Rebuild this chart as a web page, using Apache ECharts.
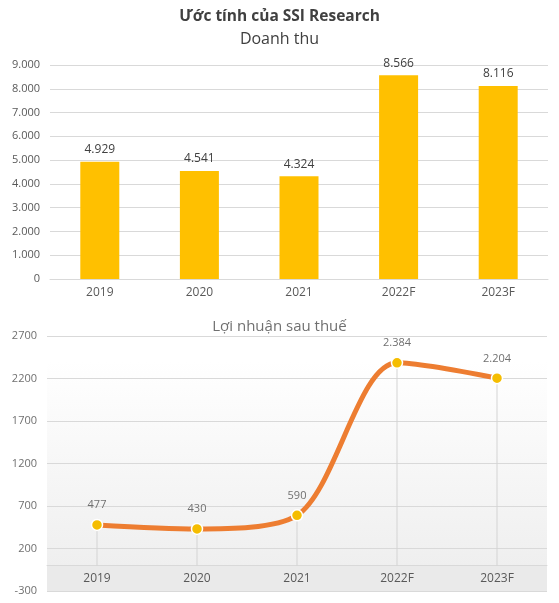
<!DOCTYPE html>
<html><head><meta charset="utf-8">
<script src="https://cdn.jsdelivr.net/npm/echarts@6/dist/echarts.min.js"></script>
<style>html,body{margin:0;padding:0;background:#fff}#c{width:559px;height:603px}</style>
</head><body><div id="c"></div>
<script>
const categories = ['2019', '2020', '2021', '2022F', '2023F'];
const revenue = [4929, 4541, 4324, 8566, 8116];
const profit = [477, 430, 590, 2384, 2204];
const revenueTicks = { min: 0, max: 9000, interval: 1000 };
const profitTicks = { min: -300, max: 2700, interval: 500 };

const FONT = '"Open Sans", "Noto Sans", sans-serif';
const fmt = v => String(v).replace(/\B(?=(\d{3})+(?!\d))/g, '.');

const H = 603, G2_TOP = 336, G2_BOTTOM = 12;
const g2Height = H - G2_TOP - G2_BOTTOM;
// distance from bottom of plot to the value 0 line
const zeroOffset = g2Height * (0 - profitTicks.min) / (profitTicks.max - profitTicks.min);
const zeroFrac = 1 - (0 - profitTicks.min) / (profitTicks.max - profitTicks.min);

const chart = echarts.init(document.getElementById('c'), null, { renderer: 'canvas' });
chart.setOption({
  animation: false,
  textStyle: { fontFamily: FONT },
  title: [
    { text: 'Ước tính của SSI Research', left: 'center', top: 4,
      textStyle: { fontFamily: FONT, fontSize: 15.5, fontWeight: 'bold', color: '#404040' } },
    { text: 'Doanh thu', left: 'center', top: 26,
      textStyle: { fontFamily: FONT, fontSize: 16, fontWeight: 'normal', color: '#404040' } },
    { text: 'Lợi nhuận sau thuế', left: 'center', top: 314,
      textStyle: { fontFamily: FONT, fontSize: 15, fontWeight: 'normal', color: '#707070' } }
  ],
  grid: [
    { left: 50, right: 11, top: 65, bottom: 324, outerBoundsMode: 'none', containLabel: false },
    { left: 47, right: 12, top: G2_TOP, bottom: G2_BOTTOM, outerBoundsMode: 'none', containLabel: false,
      show: true, borderWidth: 0,
      backgroundColor: { type: 'linear', x: 0, y: 0, x2: 0, y2: 1, colorStops: [
        { offset: 0, color: '#ffffff' }, { offset: 0.1, color: '#ffffff' },
        { offset: zeroFrac, color: '#efefef' }, { offset: zeroFrac, color: '#eaeaea' }, { offset: 1, color: '#eaeaea' }
      ] } }
  ],
  xAxis: [
    { type: 'category', gridIndex: 0, data: categories,
      axisLine: { show: true, lineStyle: { color: '#d9d9d9' } }, axisTick: { show: false },
      axisLabel: { color: '#595959', fontSize: 12, margin: 8, fontFamily: FONT } },
    { type: 'category', gridIndex: 1, data: categories, offset: -zeroOffset,
      axisLine: { show: true, onZero: false, lineStyle: { color: '#d9d9d9' } },
      axisTick: { show: false },
      axisLabel: { color: '#595959', fontSize: 12, margin: 7, fontFamily: FONT } }
  ],
  yAxis: [
    { type: 'value', gridIndex: 0, min: revenueTicks.min, max: revenueTicks.max, interval: revenueTicks.interval,
      axisLine: { show: false }, axisTick: { show: false },
      splitLine: { lineStyle: { color: '#d9d9d9' } },
      axisLabel: { color: '#595959', fontSize: 11, margin: 10, formatter: fmt, fontFamily: FONT } },
    { type: 'value', gridIndex: 1, min: profitTicks.min, max: profitTicks.max, interval: profitTicks.interval,
      axisLine: { show: false }, axisTick: { show: false },
      splitLine: { lineStyle: { color: '#d9d9d9' } },
      axisLabel: { color: '#707070', fontSize: 11, margin: 10, formatter: v => String(v), fontFamily: FONT } }
  ],
  series: [
    { type: 'bar', xAxisIndex: 0, yAxisIndex: 0, data: revenue, barWidth: 39,
      itemStyle: { color: '#ffc000' },
      label: { show: true, position: 'top', distance: 6, color: '#404040', fontSize: 12,
        fontFamily: FONT, formatter: p => fmt(p.value) } },
    { type: 'bar', xAxisIndex: 1, yAxisIndex: 1, data: profit, barWidth: 1, z: 1,
      itemStyle: { color: '#d4d4d4' }, silent: true },
    { type: 'line', xAxisIndex: 1, yAxisIndex: 1, data: profit, smooth: 0.3, z: 3,
      lineStyle: { color: '#ed7d31', width: 5 },
      symbol: 'circle', symbolSize: 11,
      itemStyle: { color: '#f5bd00', borderColor: '#ffffff', borderWidth: 1.5 },
      label: { show: true, position: 'top', distance: 8, color: '#707070', fontSize: 11,
        fontFamily: FONT, formatter: p => fmt(p.value) } }
  ]
});
</script></body></html>
